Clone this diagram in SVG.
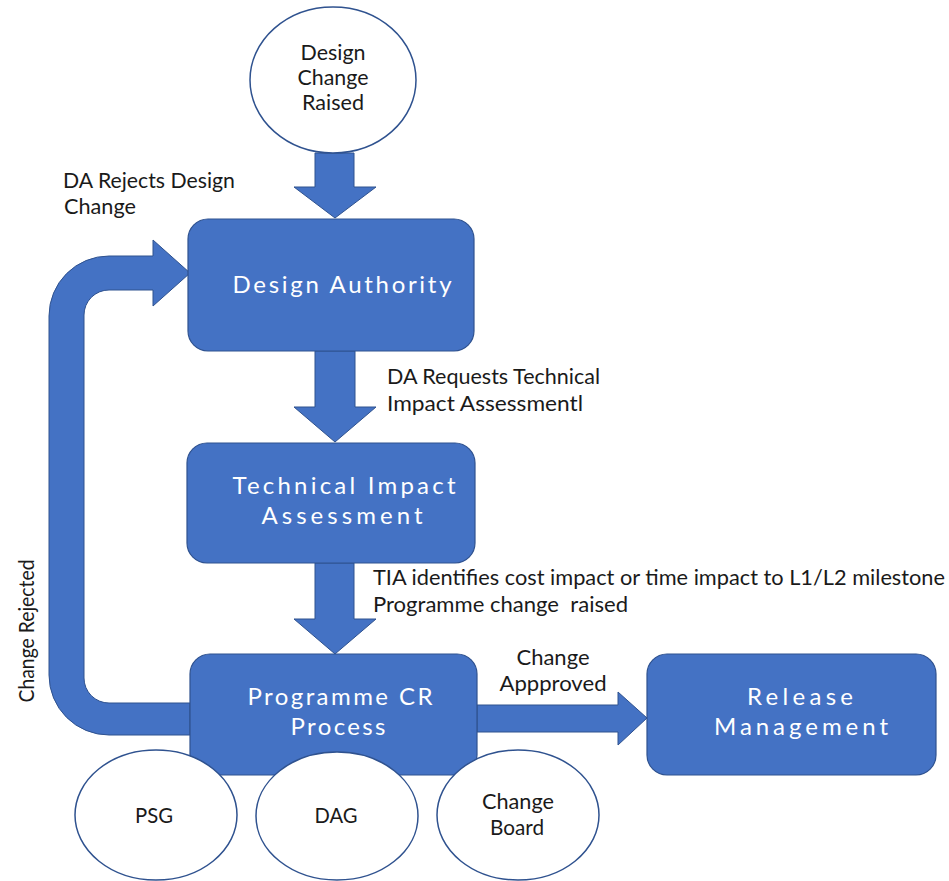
<svg xmlns="http://www.w3.org/2000/svg" width="949" height="881" viewBox="0 0 949 881">
<style>
.box{fill:#4472C4;stroke:#2F528F;stroke-width:1.2}
.arrow{fill:#4472C4;stroke:#2F528F;stroke-width:1}
.circ{fill:#FFFFFF;stroke:#2F528F;stroke-width:1.5}
.bt{font-family:Lato,"Liberation Sans",sans-serif;font-size:24px;fill:#FFFFFF;text-anchor:middle}
.ct{font-family:Lato,"Liberation Sans",sans-serif;font-size:21px;fill:#1a1a1a;text-anchor:middle}
.lt{font-family:Lato,"Liberation Sans",sans-serif;font-size:21px;fill:#1a1a1a}
</style>
<rect width="949" height="881" fill="#FFFFFF"/>
<g id="connectors">
<polygon class="arrow" points="315,153 354,153 354,187 376,187 335,218 294,187 315,187"/>
<polygon class="arrow" points="315,351 355,351 355,407 376,407 335,442 294,407 315,407"/>
<polygon class="arrow" points="315,563 354,563 354,619 376,619 335,654 294,619 315,619"/>
<path class="arrow" d="M190,735 L109,735 A60,60 0 0 1 49,675 L49,316 A60,60 0 0 1 109,256 L153,256 L153,240 L190,273 L153,306 L153,290 L109,290 A25,25 0 0 0 84,315 L84,678 A25,25 0 0 0 109,703 L190,703 Z"/>
<polygon class="arrow" points="477,705 618,705 618,692 647,718 618,745 618,732 477,732"/>
<text class="lt" x="63" y="188" textLength="172" lengthAdjust="spacingAndGlyphs">DA Rejects Design</text>
<text class="lt" x="64" y="214" textLength="72" lengthAdjust="spacingAndGlyphs">Change</text>
<text class="lt" x="387" y="384" textLength="213" lengthAdjust="spacingAndGlyphs">DA Requests Technical</text>
<text class="lt" x="387" y="411" textLength="196" lengthAdjust="spacingAndGlyphs">Impact Assessmentl</text>
<text class="lt" x="373" y="585" textLength="572" lengthAdjust="spacingAndGlyphs">TIA identifies cost impact or time impact to L1/L2 milestone</text>
<text class="lt" x="373" y="612" textLength="255" lengthAdjust="spacingAndGlyphs" xml:space="preserve">Programme change  raised</text>
<text class="ct" x="553" y="665" textLength="73" lengthAdjust="spacingAndGlyphs">Change</text>
<text class="ct" x="553" y="691" textLength="107" lengthAdjust="spacingAndGlyphs">Appproved</text>
<text class="ct" transform="translate(34,631) rotate(-90)" textLength="143" lengthAdjust="spacingAndGlyphs">Change Rejected</text>
</g>
<g id="design-change-raised">
<ellipse class="circ" cx="333" cy="80" rx="83" ry="73"/>
<text class="ct" x="333" y="60" textLength="65" lengthAdjust="spacingAndGlyphs">Design</text>
<text class="ct" x="333" y="85" textLength="71" lengthAdjust="spacingAndGlyphs">Change</text>
<text class="ct" x="333" y="110" textLength="62" lengthAdjust="spacingAndGlyphs">Raised</text>
</g>
<g id="design-authority">
<rect class="box" x="188" y="219" width="286" height="132" rx="20"/>
<text class="bt" x="342" y="293" textLength="219" lengthAdjust="spacing">Design Authority</text>
</g>
<g id="technical-impact-assessment">
<rect class="box" x="187" y="443" width="288" height="120" rx="20"/>
<text class="bt" x="344" y="494" textLength="223" lengthAdjust="spacing">Technical Impact</text>
<text class="bt" x="342" y="524" textLength="161" lengthAdjust="spacing">Assessment</text>
</g>
<g id="programme-cr-process">
<rect class="box" x="190" y="654" width="287" height="121" rx="20"/>
<text class="bt" x="340" y="705" textLength="185" lengthAdjust="spacing">Programme CR</text>
<text class="bt" x="338" y="735" textLength="95" lengthAdjust="spacing">Process</text>
</g>
<g id="release-management">
<rect class="box" x="647" y="654" width="289" height="121" rx="20"/>
<text class="bt" x="800" y="705" textLength="106" lengthAdjust="spacing">Release</text>
<text class="bt" x="801" y="735" textLength="174" lengthAdjust="spacing">Management</text>
</g>
<g id="psg">
<ellipse class="circ" cx="156" cy="815" rx="81" ry="65"/>
<text class="ct" x="154" y="823" textLength="38" lengthAdjust="spacingAndGlyphs">PSG</text>
</g>
<g id="dag">
<ellipse class="circ" cx="337" cy="816" rx="81" ry="64"/>
<text class="ct" x="336" y="823" textLength="43" lengthAdjust="spacingAndGlyphs">DAG</text>
</g>
<g id="change-board">
<ellipse class="circ" cx="518" cy="815" rx="81" ry="65"/>
<text class="ct" x="518" y="809" textLength="72" lengthAdjust="spacingAndGlyphs">Change</text>
<text class="ct" x="517" y="835" textLength="54" lengthAdjust="spacingAndGlyphs">Board</text>
</g>
</svg>
